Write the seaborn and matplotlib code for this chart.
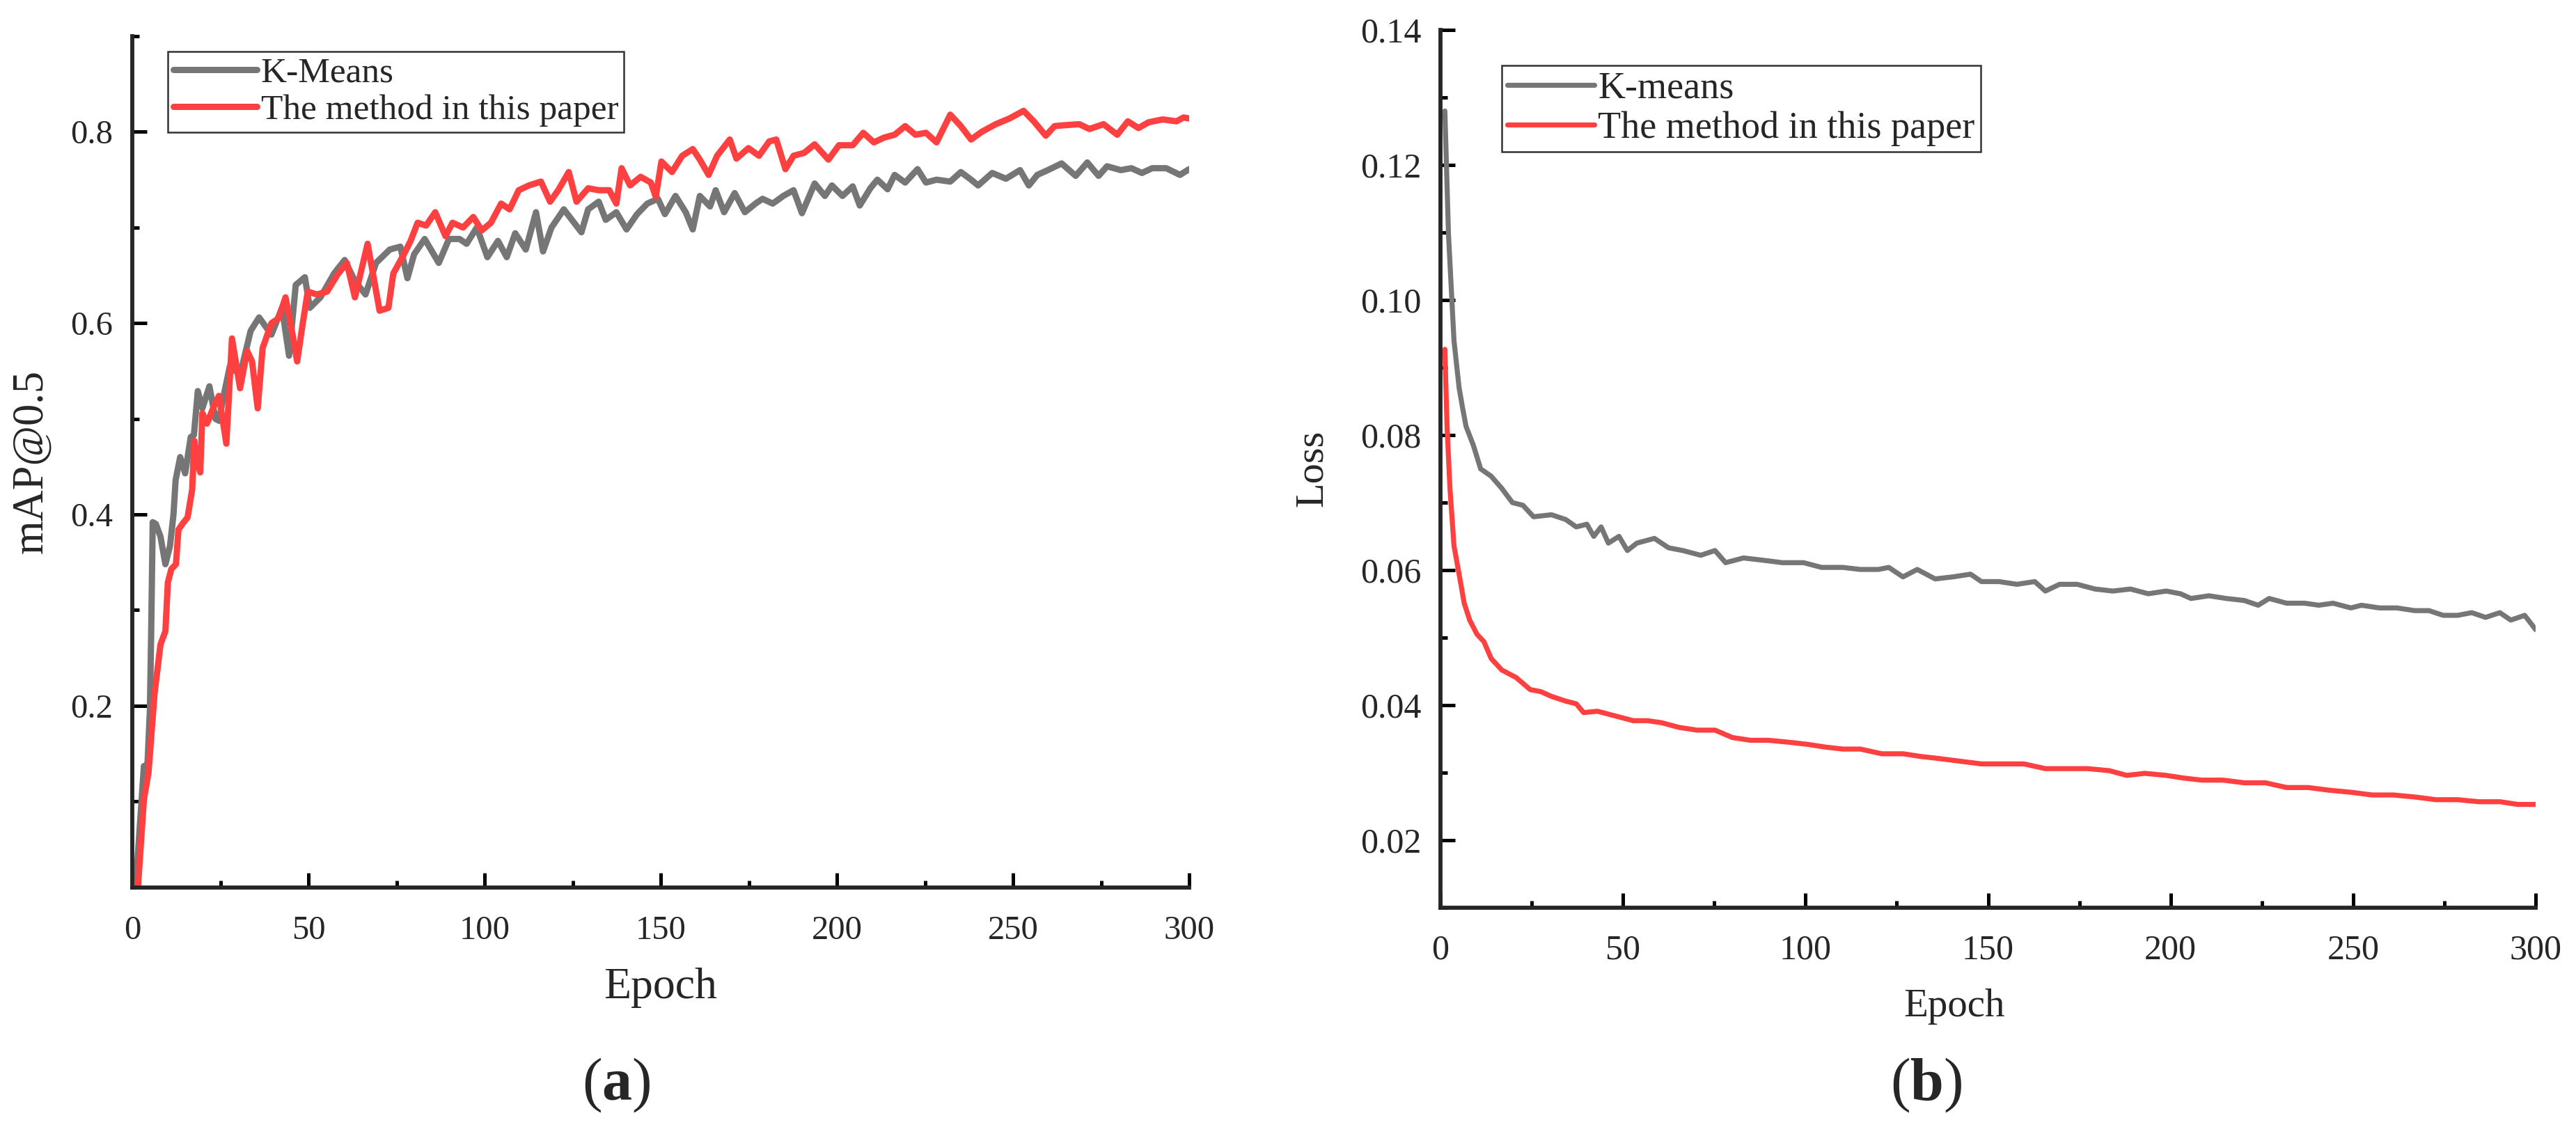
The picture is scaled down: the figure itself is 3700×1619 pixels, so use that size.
import numpy as np
import pandas as pd
import matplotlib
matplotlib.use("Agg")
import matplotlib.pyplot as plt
from matplotlib.ticker import MultipleLocator, FormatStrFormatter
import seaborn as sns

# ---------------- data ----------------
kmeans_map_epoch = [1.0, 3.3, 4.3, 5.0, 5.4, 5.8, 6.7, 8.0, 9.4, 10.7, 11.7, 12.3, 13.6, 15.0, 16.6,
                    17.5, 18.6, 19.9, 21.9, 23.6, 24.6, 25.7, 27.7, 30.6, 33.6, 36.0, 39.5, 42.5, 44.5,
                    46.4, 49.0, 50.4, 53.4, 57.3, 60.3, 63.2, 66.2, 69.2, 73.1, 76.1, 78.1, 80.0, 83.0,
                    87.0, 89.9, 92.9, 94.9, 97.8, 100.8, 103.8, 106.3, 108.7, 111.7, 114.6, 116.6, 119.0,
                    122.5, 127.5, 129.4, 132.4, 134.4, 137.4, 140.3, 143.3, 146.2, 149.2, 151.2, 154.2,
                    157.1, 159.1, 161.1, 164.0, 165.6, 168.0, 171.0, 173.9, 176.9, 178.9, 181.8, 184.8,
                    187.7, 190.1, 193.7, 196.6, 198.6, 201.6, 204.5, 206.5, 209.5, 211.5, 214.4, 216.4,
                    219.4, 222.9, 225.3, 228.3, 232.2, 235.2, 238.1, 240.1, 244.1, 248.0, 252.0, 254.5,
                    256.9, 259.9, 263.8, 267.8, 271.1, 274.3, 276.7, 280.6, 283.6, 286.6, 289.5, 293.5,
                    297.4, 300.0]
kmeans_map = [0.012, 0.137, 0.138, 0.195, 0.285, 0.392, 0.390, 0.377, 0.348, 0.367, 0.400, 0.436, 0.460,
              0.443, 0.481, 0.483, 0.529, 0.511, 0.534, 0.500, 0.498, 0.520, 0.555, 0.546, 0.592, 0.606,
              0.588, 0.616, 0.566, 0.640, 0.648, 0.616, 0.627, 0.652, 0.666, 0.644, 0.630, 0.663, 0.677,
              0.680, 0.647, 0.672, 0.688, 0.663, 0.688, 0.688, 0.683, 0.700, 0.669, 0.686, 0.669, 0.694,
              0.677, 0.716, 0.675, 0.700, 0.719, 0.695, 0.719, 0.727, 0.708, 0.716, 0.698, 0.714, 0.725,
              0.730, 0.714, 0.733, 0.716, 0.698, 0.733, 0.722, 0.739, 0.716, 0.736, 0.716, 0.725, 0.730,
              0.725, 0.733, 0.739, 0.715, 0.746, 0.733, 0.744, 0.733, 0.743, 0.723, 0.741, 0.750, 0.740,
              0.755, 0.747, 0.761, 0.747, 0.750, 0.748, 0.758, 0.750, 0.744, 0.757, 0.751, 0.760, 0.744,
              0.755, 0.760, 0.767, 0.754, 0.768, 0.754, 0.764, 0.760, 0.762, 0.757, 0.762, 0.762, 0.755,
              0.761]

ours_map_epoch = [1.6, 3.3, 4.6, 6.3, 8.0, 9.4, 10.1, 11.1, 12.4, 13.1, 14.4, 15.7, 17.0, 17.6, 18.3,
                  19.3, 19.9, 21.2, 22.5, 23.6, 24.6, 26.7, 28.3, 30.6, 32.6, 34.0, 35.6, 37.0, 39.5,
                  41.5, 43.5, 45.5, 46.8, 48.4, 49.8, 52.4, 55.3, 58.3, 60.9, 63.2, 66.8, 70.2, 72.7,
                  74.1, 77.1, 79.0, 81.0, 83.4, 86.0, 88.9, 90.9, 93.9, 96.8, 99.2, 101.8, 104.7, 107.1,
                  109.7, 112.6, 116.0, 118.6, 120.9, 123.9, 126.1, 129.4, 132.4, 135.4, 137.4, 138.9,
                  141.3, 144.3, 147.2, 148.6, 150.2, 153.2, 156.1, 159.1, 161.1, 163.6, 166.0, 169.6,
                  171.5, 174.9, 177.9, 180.8, 182.8, 185.4, 187.7, 190.7, 193.7, 197.6, 200.6, 204.5,
                  207.5, 210.5, 213.4, 216.4, 219.4, 222.3, 225.3, 228.3, 232.2, 235.2, 238.1, 241.1,
                  245.1, 249.0, 253.0, 255.9, 259.3, 261.8, 264.8, 268.8, 271.7, 275.7, 279.6, 282.6,
                  285.6, 288.5, 292.5, 296.4, 298.4, 300.0]
ours_map = [0.010, 0.102, 0.130, 0.212, 0.264, 0.278, 0.329, 0.343, 0.348, 0.384, 0.391, 0.397, 0.426,
            0.477, 0.455, 0.444, 0.506, 0.495, 0.507, 0.517, 0.524, 0.474, 0.584, 0.532, 0.571, 0.560,
            0.511, 0.574, 0.600, 0.605, 0.627, 0.588, 0.560, 0.600, 0.633, 0.630, 0.633, 0.651, 0.663,
            0.627, 0.683, 0.613, 0.616, 0.652, 0.672, 0.686, 0.705, 0.702, 0.716, 0.691, 0.705, 0.700,
            0.711, 0.697, 0.705, 0.725, 0.719, 0.739, 0.744, 0.748, 0.727, 0.739, 0.758, 0.727, 0.741,
            0.739, 0.739, 0.725, 0.762, 0.744, 0.753, 0.747, 0.732, 0.769, 0.758, 0.775, 0.782, 0.771,
            0.755, 0.775, 0.792, 0.772, 0.783, 0.775, 0.790, 0.792, 0.761, 0.775, 0.778, 0.787, 0.771,
            0.786, 0.786, 0.799, 0.789, 0.794, 0.797, 0.806, 0.797, 0.799, 0.789, 0.818, 0.806, 0.792,
            0.800, 0.808, 0.814, 0.822, 0.811, 0.796, 0.806, 0.807, 0.808, 0.803, 0.808, 0.797, 0.811,
            0.804, 0.810, 0.813, 0.811, 0.815, 0.814]

kmeans_loss_epoch = [1.2, 2.2, 3.7, 5.1, 6.0, 7.0, 9.0, 11.0, 13.9, 16.8, 19.7, 22.6, 25.5, 30.4, 34.3,
                     37.2, 40.1, 42.0, 44.0, 46.0, 48.9, 51.2, 53.8, 58.6, 62.5, 66.4, 71.3, 75.2, 78.1,
                     83.0, 87.8, 93.7, 99.5, 104.4, 110.2, 115.0, 120.0, 122.8, 126.7, 130.6, 135.5,
                     140.4, 145.2, 148.2, 153.0, 157.9, 162.8, 165.7, 169.6, 174.4, 179.3, 184.2, 189.0,
                     193.9, 198.8, 202.7, 205.6, 210.5, 215.3, 220.2, 224.0, 227.0, 231.8, 236.7, 240.6,
                     244.5, 249.4, 252.3, 257.2, 262.0, 266.9, 270.8, 274.7, 278.6, 282.5, 286.3, 290.2,
                     293.2, 297.0, 300.0]
kmeans_loss = [0.1280, 0.1097, 0.0940, 0.0870, 0.0842, 0.0813, 0.0785, 0.0750, 0.0739, 0.0721, 0.0700,
               0.0696, 0.0679, 0.0682, 0.0675, 0.0664, 0.0668, 0.0650, 0.0664, 0.0640, 0.0650, 0.0629,
               0.0640, 0.0647, 0.0633, 0.0629, 0.0622, 0.0629, 0.0611, 0.0618, 0.0615, 0.0611, 0.0611,
               0.0604, 0.0604, 0.0601, 0.0601, 0.0604, 0.0590, 0.0601, 0.0587, 0.0590, 0.0594, 0.0583,
               0.0583, 0.0579, 0.0583, 0.0569, 0.0579, 0.0579, 0.0572, 0.0569, 0.0572, 0.0565, 0.0569,
               0.0565, 0.0558, 0.0562, 0.0558, 0.0555, 0.0548, 0.0558, 0.0551, 0.0551, 0.0548, 0.0551,
               0.0544, 0.0548, 0.0544, 0.0544, 0.0540, 0.0540, 0.0533, 0.0533, 0.0537, 0.0530, 0.0537,
               0.0526, 0.0533, 0.0512]

ours_loss_epoch = [1.2, 1.8, 2.6, 3.7, 5.1, 6.5, 8.0, 10.0, 11.9, 13.9, 16.8, 20.7, 24.6, 27.5, 30.4,
                   34.3, 37.2, 39.2, 43.0, 47.9, 52.8, 56.7, 60.6, 65.4, 70.3, 75.2, 80.0, 84.9, 89.8,
                   95.6, 100.5, 105.3, 110.2, 115.0, 120.9, 126.7, 131.6, 136.5, 142.3, 148.2, 154.0,
                   159.8, 165.7, 171.5, 177.3, 183.2, 188.0, 192.9, 198.8, 203.6, 208.5, 214.3, 220.2,
                   226.0, 231.8, 237.7, 243.5, 249.4, 255.2, 261.0, 266.9, 272.7, 278.6, 284.4, 290.2,
                   295.1, 300.0]
ours_loss = [0.0927, 0.0813, 0.0721, 0.0636, 0.0594, 0.0551, 0.0526, 0.0505, 0.0494, 0.0469, 0.0452,
             0.0441, 0.0423, 0.0420, 0.0413, 0.0406, 0.0402, 0.0389, 0.0391, 0.0384, 0.0377, 0.0377,
             0.0374, 0.0367, 0.0363, 0.0363, 0.0352, 0.0348, 0.0348, 0.0345, 0.0342, 0.0338, 0.0335,
             0.0335, 0.0328, 0.0328, 0.0324, 0.0321, 0.0317, 0.0313, 0.0313, 0.0313, 0.0306, 0.0306,
             0.0306, 0.0303, 0.0296, 0.0299, 0.0296, 0.0292, 0.0289, 0.0289, 0.0285, 0.0285, 0.0278,
             0.0278, 0.0274, 0.0271, 0.0267, 0.0267, 0.0264, 0.0260, 0.0260, 0.0257, 0.0257, 0.0253,
             0.0253]

map_labels = ["K-Means", "The method in this paper"]
loss_labels = ["K-means", "The method in this paper"]
x_ticks = [0, 50, 100, 150, 200, 250, 300]
map_ticks = [0.2, 0.4, 0.6, 0.8]
loss_ticks = [0.02, 0.04, 0.06, 0.08, 0.10, 0.12, 0.14]

GRAY = "#767676"
RED = "#ff4040"

# ---------------- style ----------------
sns.set_style("ticks")
plt.rcParams["font.family"] = ["Liberation Serif", "DejaVu Serif"]
plt.rcParams["mathtext.fontset"] = "custom"
plt.rcParams["mathtext.rm"] = "Liberation Serif"
plt.rcParams["mathtext.bf"] = "Liberation Serif:bold"

W, H = 3700, 1619
fig = plt.figure(figsize=(W / 100, H / 100), dpi=100)


def frac_box(x0, y0, x1, y1):
    return [x0 / W, 1 - y1 / H, (x1 - x0) / W, (y1 - y0) / H]


ax1 = fig.add_axes(frac_box(190, 52, 1708, 1275))
ax2 = fig.add_axes(frac_box(2069, 43, 3642, 1304))

df_map = pd.DataFrame({
    "Epoch": kmeans_map_epoch + ours_map_epoch,
    "mAP": kmeans_map + ours_map,
    "Method": [map_labels[0]] * len(kmeans_map) + [map_labels[1]] * len(ours_map),
})
df_loss = pd.DataFrame({
    "Epoch": kmeans_loss_epoch + ours_loss_epoch,
    "Loss": kmeans_loss + ours_loss,
    "Method": [loss_labels[0]] * len(kmeans_loss) + [loss_labels[1]] * len(ours_loss),
})

sns.lineplot(data=df_map, x="Epoch", y="mAP", hue="Method", hue_order=map_labels,
             palette={map_labels[0]: GRAY, map_labels[1]: RED}, estimator=None, sort=False,
             linewidth=6.5, ax=ax1)
sns.lineplot(data=df_loss, x="Epoch", y="Loss", hue="Method", hue_order=loss_labels,
             palette={loss_labels[0]: GRAY, loss_labels[1]: RED}, estimator=None, sort=False,
             linewidth=5.2, ax=ax2)

for ax in (ax1, ax2):
    for ln in ax.lines:
        ln.set_solid_joinstyle("round")
        ln.set_solid_capstyle("round")
    ax.spines["top"].set_visible(False)
    ax.spines["right"].set_visible(False)
    ax.spines["left"].set_linewidth(4.2)
    ax.spines["bottom"].set_linewidth(4.2)
    ax.set_xlim(0, 300)
    ax.set_xticks(x_ticks)
    ax.xaxis.set_minor_locator(MultipleLocator(25))
    ax.tick_params(which="major", direction="in", length=15, width=3.6, color="black")
    ax.tick_params(which="minor", direction="in", length=7, width=3.6, color="black")
    ax.set_xlabel("")
    ax.set_ylabel("")
    ax.set_facecolor("white")

ax1.set_ylim(0.01, 0.9)
ax1.set_yticks(map_ticks)
ax1.yaxis.set_minor_locator(MultipleLocator(0.1))
ax1.yaxis.set_major_formatter(FormatStrFormatter("%.1f"))
ax1.tick_params(axis="x", which="major", pad=29, labelsize=35)
ax1.tick_params(axis="y", which="major", pad=20, labelsize=35)

ax2.set_ylim(0.01, 0.14)
ax2.set_yticks(loss_ticks)
ax2.yaxis.set_minor_locator(MultipleLocator(0.01))
ax2.yaxis.set_major_formatter(FormatStrFormatter("%.2f"))
ax2.tick_params(axis="x", which="major", pad=27, labelsize=36)
ax2.tick_params(axis="y", which="major", pad=20, labelsize=36)

# legends
h1, l1 = ax1.get_legend_handles_labels()
leg1 = ax1.legend(h1, l1, loc="upper left", bbox_to_anchor=((241 - 190) / 1518, (1275 - 74) / 1223),
                  borderaxespad=0, fontsize=37, handlelength=2.35, handletextpad=0.1,
                  borderpad=0.15, labelspacing=0.12, frameon=True, fancybox=False)
leg1.get_frame().set_edgecolor("black")
leg1.get_frame().set_linewidth(1.8)
for ln in leg1.get_lines():
    ln.set_linewidth(6.5)
    ln.set_solid_capstyle("round")

h2, l2 = ax2.get_legend_handles_labels()
leg2 = ax2.legend(h2, l2, loc="upper left", bbox_to_anchor=((2157 - 2069) / 1573, (1304 - 94) / 1261),
                  borderaxespad=0, fontsize=39, handlelength=2.3, handletextpad=0.1,
                  borderpad=0.15, labelspacing=0.12, frameon=True, fancybox=False)
leg2.get_frame().set_edgecolor("black")
leg2.get_frame().set_linewidth(1.8)
for ln in leg2.get_lines():
    ln.set_linewidth(5.2)
    ln.set_solid_capstyle("round")

# axis titles and captions
fig.text(45 / W, 1 - 663 / H, "mAP@0.5", rotation=90, ha="center", va="center", fontsize=45)
fig.text(949 / W, 1 - 1434 / H, "Epoch", ha="center", va="baseline", fontsize=46)
fig.text(1885 / W, 1 - 673 / H, "Loss", rotation=90, ha="center", va="center", fontsize=42)
fig.text(2807 / W, 1 - 1460 / H, "Epoch", ha="center", va="baseline", fontsize=41)
fig.text(885 / W, 1 - 1580 / H, r"($\mathbf{a}$)", ha="center", va="baseline", fontsize=62)
fig.text(2767 / W, 1 - 1580 / H, r"($\mathbf{b}$)", ha="center", va="baseline", fontsize=62)

fig.savefig("out.png", dpi=100, facecolor="white")
